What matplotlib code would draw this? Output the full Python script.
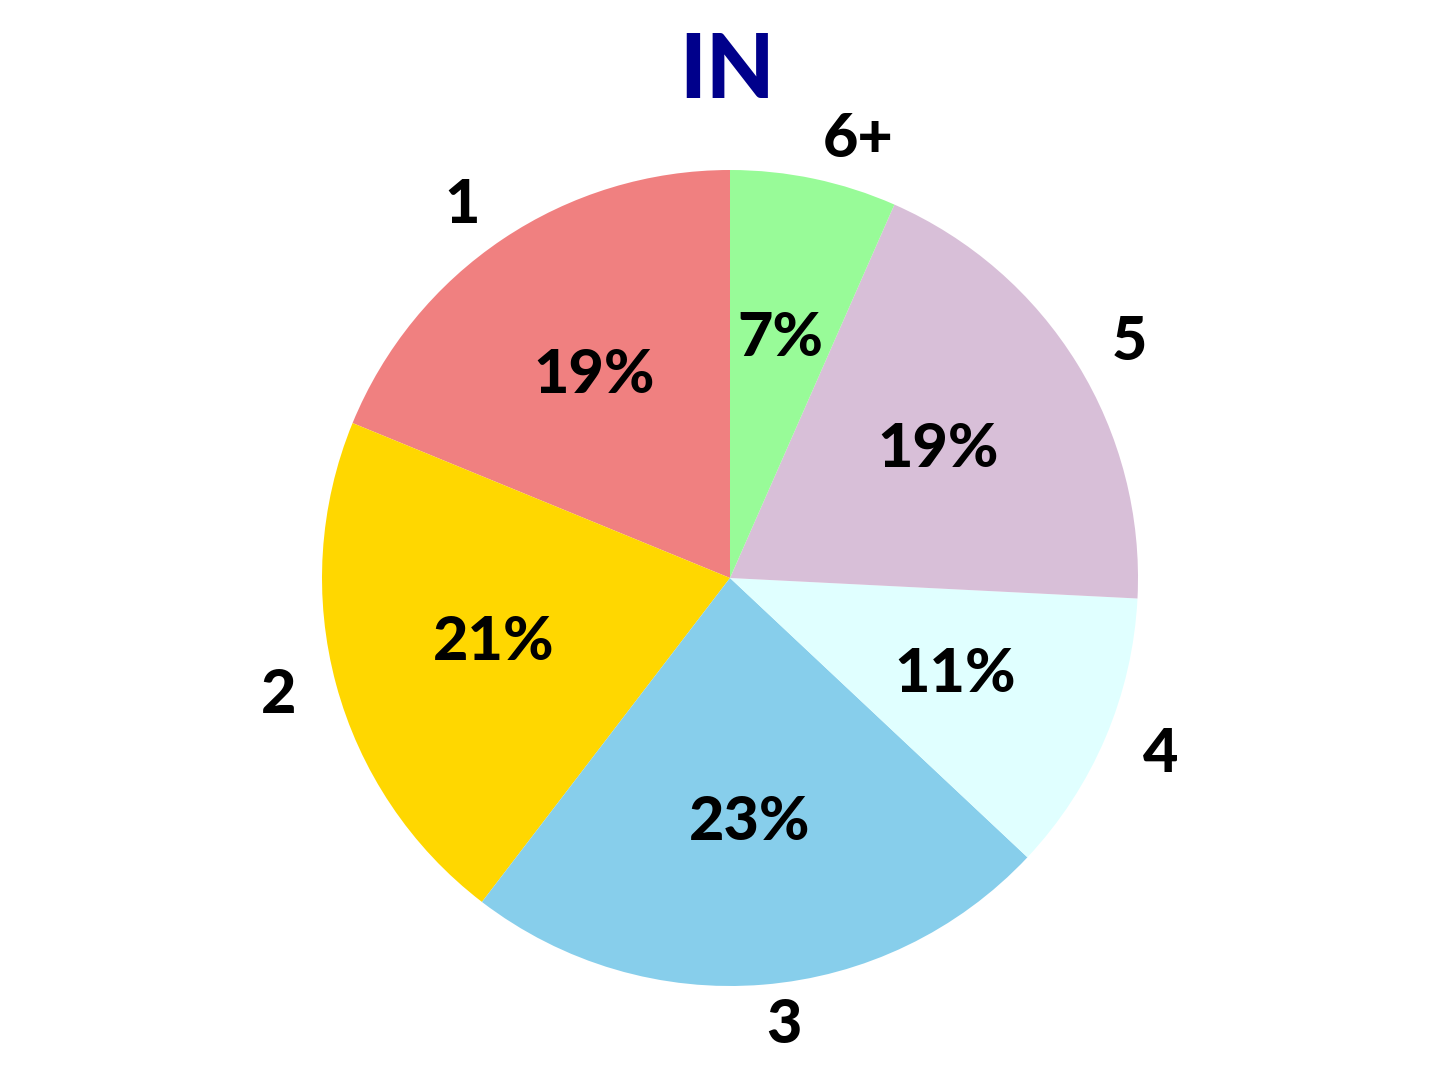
import matplotlib.pyplot as plt

labels = ['1', '2', '3', '4', '5', '6+']
values = [18.8, 20.8, 23.4, 11.2, 19.2, 6.6]
colors = ['lightcoral', 'gold', 'skyblue', 'lightcyan', 'thistle', 'palegreen']

plt.rcParams['font.family'] = ['Lato', 'DejaVu Sans']

fig = plt.figure(figsize=(14.55, 10.87), dpi=100)
ax = fig.add_axes([220 / 1455, -1 / 1087, 1020 / 1455, 1020 / 1087])
wedges, texts, autotexts = ax.pie(values, labels=labels, colors=colors, autopct='%1.0f%%',
                                  startangle=90, labeldistance=1.1, pctdistance=0.6,
                                  textprops={'fontsize': 44, 'fontweight': 'black'})
ax.set_aspect('equal')
fig.text(727 / 1455, 1 - 72 / 1087, 'IN', ha='center', va='center',
         fontsize=64, fontweight='black', color='#00008B')

fig.savefig('out.png', dpi=100)
